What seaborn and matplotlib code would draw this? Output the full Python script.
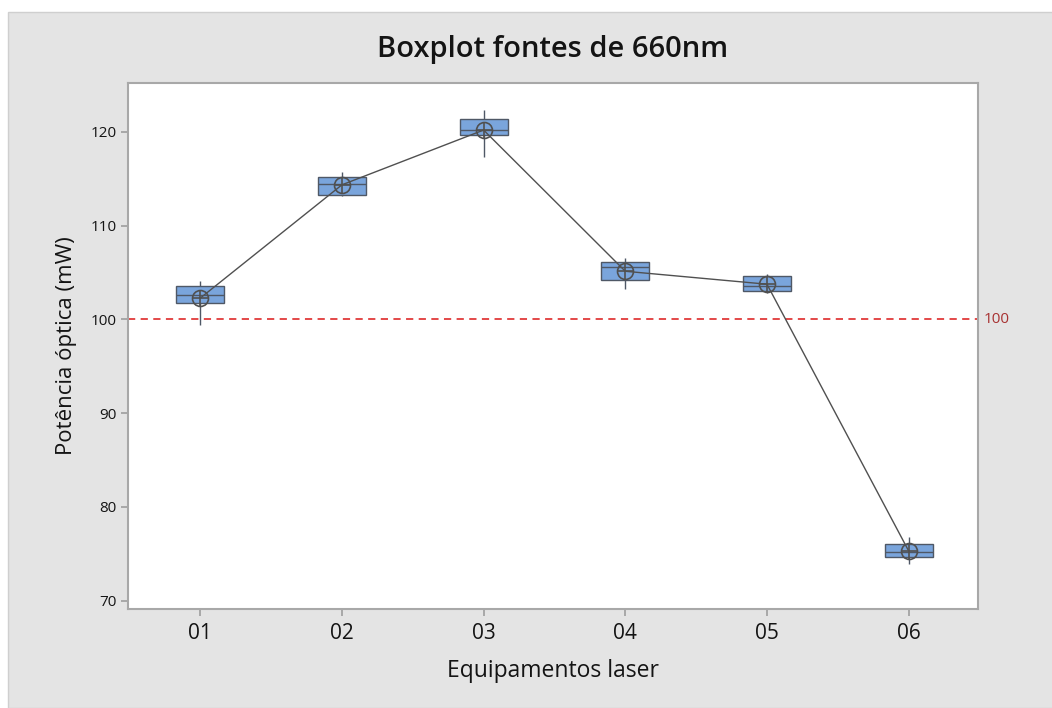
import numpy as np
import pandas as pd
import matplotlib
matplotlib.use("Agg")
import matplotlib.pyplot as plt
import seaborn as sns
from matplotlib.patches import Rectangle

# leituras estimadas por equipamento (mW)
equipamentos = ["01", "02", "03", "04", "05", "06"]
leituras_01 = [99.4, 101.7, 102.6, 103.5, 104.1]
leituras_02 = [113.1, 113.3, 114.4, 115.2, 115.7]
leituras_03 = [117.3, 119.7, 120.2, 121.4, 122.3]
leituras_04 = [103.2, 104.2, 105.6, 106.1, 106.5]
leituras_05 = [102.8, 103.0, 103.5, 104.6, 104.8]
leituras_06 = [73.9, 74.6, 75.2, 76.0, 76.8]
referencia = 100

leituras = [leituras_01, leituras_02, leituras_03, leituras_04, leituras_05, leituras_06]
df = pd.DataFrame({
    "Equipamento": np.repeat(equipamentos, [len(l) for l in leituras]),
    "Potencia": np.concatenate(leituras),
})

sns.set_theme(style="white")
plt.rcParams["font.family"] = ["Open Sans", "DejaVu Sans"]
plt.rcParams["text.color"] = "#141414"
plt.rcParams["axes.labelcolor"] = "#141414"
plt.rcParams["xtick.color"] = "#141414"
plt.rcParams["ytick.color"] = "#141414"

fig = plt.figure(figsize=(10.52, 7.08), dpi=100, facecolor="white")
# painel cinza de fundo
fig.patches.append(Rectangle((8 / 1052, 0), 1, 1 - 12 / 708, transform=fig.transFigure,
                             facecolor="#e4e4e4", edgecolor="#cfcfcf", lw=1, zorder=-1))
ax = fig.add_axes([0.1217, 0.1398, 0.808, 0.743])
ax.set_facecolor("white")

sns.boxplot(data=df, x="Equipamento", y="Potencia", ax=ax, width=0.34,
            color="#7aa5dc", saturation=1, linewidth=1.0, whis=10,
            boxprops=dict(edgecolor="#4f5866"),
            medianprops=dict(color="#4f5866", lw=1.0),
            whiskerprops=dict(color="#4f5866", lw=1.0),
            capprops=dict(lw=0), showfliers=False)

sns.pointplot(data=df, x="Equipamento", y="Potencia", ax=ax, estimator="mean",
              errorbar=None, color="#505050", markers="o", markersize=11.5,
              markerfacecolor="none", markeredgewidth=1.2, linewidth=1.0, zorder=5)
sns.pointplot(data=df, x="Equipamento", y="Potencia", ax=ax, estimator="mean",
              errorbar=None, color="#505050", markers="+", markersize=11.5,
              markeredgewidth=1.2, linestyle="none", zorder=6)

ax.axhline(referencia, color="#e03a3a", ls=(0, (4, 3)), lw=1.3, zorder=1)
ax.text(1.007, referencia, str(referencia), transform=ax.get_yaxis_transform(),
        color="#a83232", fontsize=11, va="center", ha="left")

ax.set_xlim(-0.51, 5.49)
ax.set_ylim(69.1, 125.2)
ax.set_yticks([70, 80, 90, 100, 110, 120])
ax.set_title("Boxplot fontes de 660nm", fontsize=21, fontweight="semibold", pad=19)
ax.set_xlabel("Equipamentos laser", fontsize=16.5, labelpad=11)
ax.set_ylabel("Potência óptica (mW)", fontsize=16, labelpad=10)
ax.tick_params(axis="x", labelsize=15, length=5, color="#a0a0a0", pad=5)
ax.tick_params(axis="y", labelsize=11, length=5, color="#a0a0a0", pad=3)
ax.tick_params(bottom=True, left=True)
for s in ax.spines.values():
    s.set_color("#a8a8a8")
    s.set_linewidth(1.5)

fig.savefig("out.png", dpi=100, facecolor=fig.get_facecolor())
